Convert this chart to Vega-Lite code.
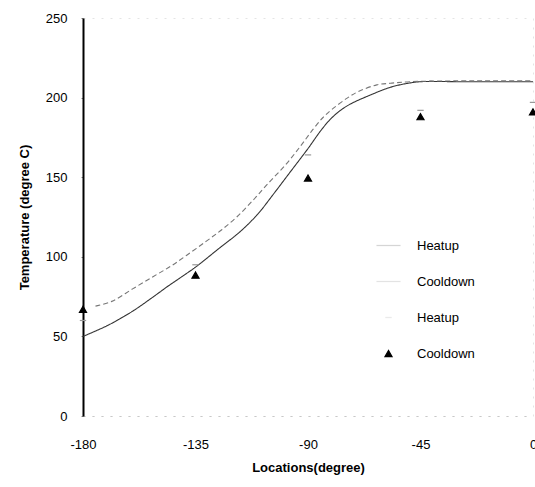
{
  "$schema": "https://vega.github.io/schema/vega-lite/v6.json",
  "width": 450,
  "height": 398,
  "autosize": {"type": "none"},
  "padding": {"left": 83, "top": 18, "right": 2, "bottom": 71},
  "background": "white",
  "config": {
    "font": "Liberation Sans",
    "view": {"stroke": "#e4e4e4", "strokeDash": [2, 7]}
  },
  "datasets": {
    "curves": [
      {"series": "Heatup", "location": -180, "temperature": 50},
      {"series": "Heatup", "location": -170, "temperature": 57},
      {"series": "Heatup", "location": -160, "temperature": 66},
      {"series": "Heatup", "location": -150, "temperature": 77},
      {"series": "Heatup", "location": -146.5, "temperature": 81},
      {"series": "Heatup", "location": -140, "temperature": 88},
      {"series": "Heatup", "location": -135, "temperature": 93.5},
      {"series": "Heatup", "location": -125, "temperature": 106},
      {"series": "Heatup", "location": -117, "temperature": 116},
      {"series": "Heatup", "location": -110, "temperature": 127},
      {"series": "Heatup", "location": -104, "temperature": 139},
      {"series": "Heatup", "location": -97, "temperature": 153.5},
      {"series": "Heatup", "location": -90, "temperature": 168},
      {"series": "Heatup", "location": -85, "temperature": 179},
      {"series": "Heatup", "location": -81, "temperature": 186.5},
      {"series": "Heatup", "location": -77, "temperature": 192},
      {"series": "Heatup", "location": -73, "temperature": 196},
      {"series": "Heatup", "location": -66, "temperature": 201},
      {"series": "Heatup", "location": -57, "temperature": 206.5},
      {"series": "Heatup", "location": -50, "temperature": 209},
      {"series": "Heatup", "location": -45, "temperature": 210},
      {"series": "Heatup", "location": -30, "temperature": 210},
      {"series": "Heatup", "location": -15, "temperature": 210},
      {"series": "Heatup", "location": 0, "temperature": 210},
      {"series": "Cooldown", "location": -175, "temperature": 69},
      {"series": "Cooldown", "location": -168.5, "temperature": 72},
      {"series": "Cooldown", "location": -160, "temperature": 80},
      {"series": "Cooldown", "location": -152, "temperature": 87.5},
      {"series": "Cooldown", "location": -145, "temperature": 94},
      {"series": "Cooldown", "location": -138.5, "temperature": 101},
      {"series": "Cooldown", "location": -130.5, "temperature": 110},
      {"series": "Cooldown", "location": -124.5, "temperature": 117},
      {"series": "Cooldown", "location": -118.5, "temperature": 125},
      {"series": "Cooldown", "location": -112, "temperature": 135.5},
      {"series": "Cooldown", "location": -106, "temperature": 146},
      {"series": "Cooldown", "location": -99, "temperature": 157.7},
      {"series": "Cooldown", "location": -93, "temperature": 169.5},
      {"series": "Cooldown", "location": -88, "temperature": 180},
      {"series": "Cooldown", "location": -84, "temperature": 187.5},
      {"series": "Cooldown", "location": -80.5, "temperature": 192.5},
      {"series": "Cooldown", "location": -74.5, "temperature": 199.5},
      {"series": "Cooldown", "location": -70, "temperature": 203.7},
      {"series": "Cooldown", "location": -62.5, "temperature": 208},
      {"series": "Cooldown", "location": -57, "temperature": 209},
      {"series": "Cooldown", "location": -49, "temperature": 210},
      {"series": "Cooldown", "location": -30, "temperature": 210.5},
      {"series": "Cooldown", "location": -15, "temperature": 210.5},
      {"series": "Cooldown", "location": 0, "temperature": 210.5}
    ],
    "points": [
      {"series": "Heatup ", "location": -180, "temperature": 60},
      {"series": "Heatup ", "location": -135, "temperature": 95},
      {"series": "Heatup ", "location": -90, "temperature": 164},
      {"series": "Heatup ", "location": -45, "temperature": 192},
      {"series": "Heatup ", "location": 0, "temperature": 197},
      {"series": "Cooldown ", "location": -180, "temperature": 67},
      {"series": "Cooldown ", "location": -135, "temperature": 88.5},
      {"series": "Cooldown ", "location": -90, "temperature": 149.5},
      {"series": "Cooldown ", "location": -45, "temperature": 188},
      {"series": "Cooldown ", "location": 0, "temperature": 191}
    ]
  },
  "layer": [
    {
      "data": {"name": "curves"},
      "mark": {"type": "line", "strokeWidth": 1.1, "interpolate": "catmull-rom"},
      "encoding": {
        "x": {
          "field": "location", "type": "quantitative",
          "scale": {"domain": [-180, 0], "nice": false, "zero": false},
          "title": "Locations(degree)",
          "axis": {
            "values": [-180, -135, -90, -45, 0],
            "labelExpr": "'' + datum.value",
            "domainColor": "#c8c8c8", "domainDash": [2, 7], "domainWidth": 1,
            "ticks": false, "grid": false,
            "labelFontSize": 13, "labelColor": "black", "labelPadding": 22,
            "labelFlush": false, "labelOverlap": false,
            "titleFontSize": 13, "titleFontWeight": "bold", "titleColor": "black", "titlePadding": 10
          }
        },
        "y": {
          "field": "temperature", "type": "quantitative",
          "scale": {"domain": [0, 250], "nice": false},
          "title": "Temperature (degree C)",
          "axis": {
            "values": [0, 50, 100, 150, 200, 250],
            "domainColor": "black", "domainWidth": 2,
            "ticks": true, "tickSize": 2, "tickColor": "#888", "grid": false,
            "labelFontSize": 13, "labelColor": "black", "labelPadding": 14,
            "titleFontSize": 13, "titleFontWeight": "bold", "titleColor": "black", "titlePadding": 14
          }
        },
        "stroke": {
          "field": "series", "type": "nominal",
          "scale": {"domain": ["Heatup", "Cooldown", "Heatup ", "Cooldown "], "range": ["#333333", "#777777", "#999999", "black"]},
          "legend": {
            "title": null, "orient": "none", "legendX": 299, "legendY": 221,
            "labelFontSize": 13, "labelColor": "black", "labelOffset": 22,
            "rowPadding": 22, "symbolSize": 50, "symbolStrokeWidth": 1.2,
            "encode": {"symbols": {"update": {"opacity": {"signal": "datum.value === 'Cooldown ' ? 1 : 0.2"}}}}
          }
        },
        "strokeDash": {
          "field": "series", "type": "nominal",
          "scale": {"domain": ["Heatup", "Cooldown"], "range": [[1, 0], [5, 3]]},
          "legend": null
        }
      }
    },
    {
      "data": {"name": "points"},
      "mark": {"type": "point", "size": 50, "strokeWidth": 1.2, "opacity": 1},
      "encoding": {
        "x": {"field": "location", "type": "quantitative"},
        "y": {"field": "temperature", "type": "quantitative"},
        "stroke": {"field": "series", "type": "nominal"},
        "fill": {
          "field": "series", "type": "nominal",
          "scale": {"domain": ["Heatup", "Cooldown", "Heatup ", "Cooldown "], "range": ["transparent", "transparent", "transparent", "black"]}
        },
        "shape": {
          "field": "series", "type": "nominal",
          "scale": {"domain": ["Heatup", "Cooldown", "Heatup ", "Cooldown "], "range": ["M-3.4,0H3.4", "M-3.4,0H3.4", "M-0.9,0H0.9", "triangle-up"]}
        }
      }
    }
  ]
}
